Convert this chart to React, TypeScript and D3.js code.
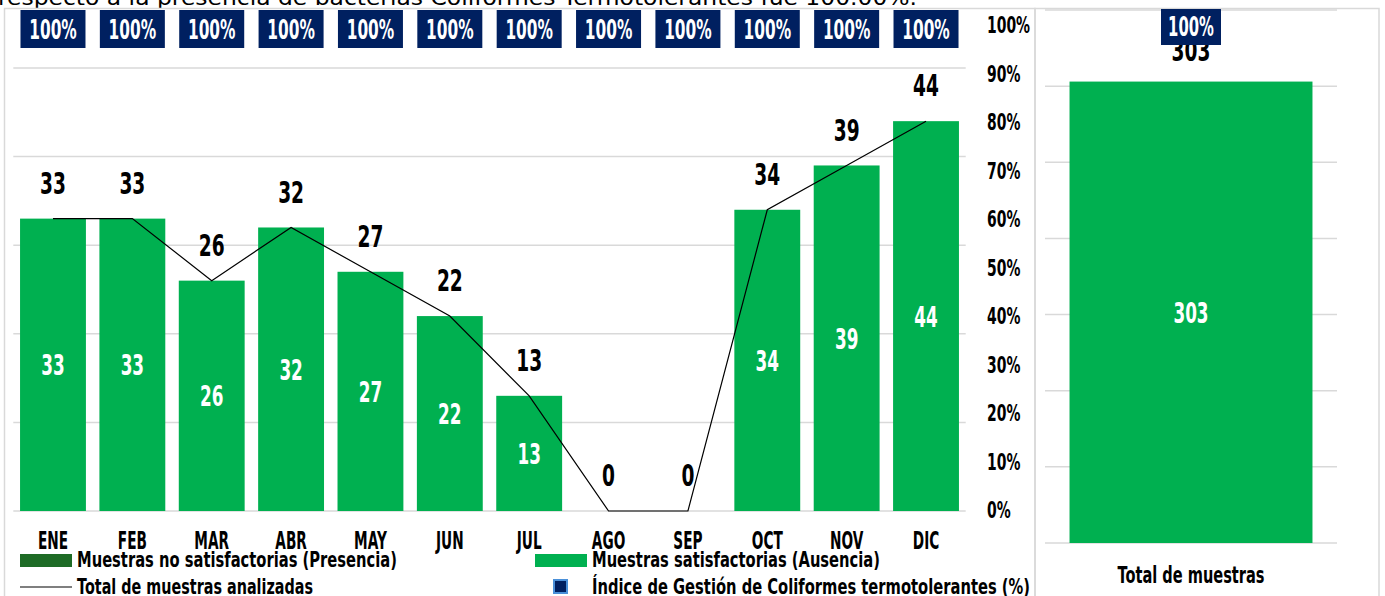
import React from "react";
import * as d3 from "d3";

const months = ["ENE", "FEB", "MAR", "ABR", "MAY", "JUN", "JUL", "AGO", "SEP", "OCT", "NOV", "DIC"];
const noSatisfactorias = [0, 0, 0, 0, 0, 0, 0, 0, 0, 0, 0, 0];
const satisfactorias = [33, 33, 26, 32, 27, 22, 13, 0, 0, 34, 39, 44];
const totalMuestras = [33, 33, 26, 32, 27, 22, 13, 0, 0, 34, 39, 44];
const indiceGestion = [1, 1, 1, 1, 1, 1, 1, 1, 1, 1, 1, 1];
const leftTicks = [0, 10, 20, 30, 40, 50];
const pctTicks = [0, 0.1, 0.2, 0.3, 0.4, 0.5, 0.6, 0.7, 0.8, 0.9, 1];

const totalCategory = ["Total de muestras"];
const totalSatisf = [303];
const totalIndice = [1];
const totalTicks = [0, 50, 100, 150, 200, 250, 300, 350];

const titleText = "respecto a la presencia de bacterias Coliformes Termotolerantes fue  100.00%.";

const FONT = "'DejaVu Sans', sans-serif";
const GREEN = "#00B050";
const DKGREEN = "#1E6B26";
const NAVY = "#002060";
const GRID = "#D9D9D9";

type NTProps = {
  x: number;
  y: number;
  sx?: number;
  size: number;
  anchor?: "start" | "middle" | "end";
  fill?: string;
  children: React.ReactNode;
};

// condensed bold text: real text, horizontally squeezed around its anchor
function NT({ x, y, sx = 0.6, size, anchor = "middle", fill = "#000", children }: NTProps) {
  return (
    <text
      transform={`translate(${x},${y}) scale(${sx},1)`}
      textAnchor={anchor}
      dy="0.36em"
      fontSize={size}
      fontWeight="bold"
      fontFamily={FONT}
      fill={fill}
    >
      {children}
    </text>
  );
}

export default function App() {
  const xL = d3.scaleBand<string>().domain(months).range([13.3, 965.7]).paddingInner(0.17).paddingOuter(0.085);
  const yL = d3.scaleLinear().domain([0, 50]).range([511, 68]);
  const yR = d3.scaleLinear().domain([0, 1]).range([510, 25]);

  const xT = d3.scaleBand<string>().domain(totalCategory).range([1045, 1337]).paddingInner(0.168).paddingOuter(0.084);
  const yT = d3.scaleLinear().domain([0, 350]).range([543, 10]);

  const cx = (m: string) => (xL(m) as number) + xL.bandwidth() / 2;
  const line = d3
    .line<number>()
    .x((_, i) => cx(months[i]))
    .y((d) => yL(d));

  const tcx = (xT(totalCategory[0]) as number) + xT.bandwidth() / 2;
  const pct = d3.format(".0%");

  return (
    <svg
      width={1385}
      height={596}
      style={{ position: "absolute", left: 0, top: 0, background: "#fff" }}
      fontFamily={FONT}
    >
      {/* title fragment */}
      <text x={-2} y={5} fontFamily="'DejaVu Sans', sans-serif" fontSize={21} fill="#000" textLength={919} lengthAdjust="spacingAndGlyphs">
        {titleText}
      </text>

      {/* frames */}
      <rect x={4.5} y={8.5} width={1030.5} height={600} fill="none" stroke={GRID} strokeWidth={1.5} />
      <rect x={1035} y={8.5} width={344} height={600} fill="none" stroke={GRID} strokeWidth={1.5} />

      {/* left gridlines */}
      {leftTicks.map((t) => (
        <line key={t} x1={13.3} x2={965.7} y1={yL(t)} y2={yL(t)} stroke={GRID} strokeWidth={1.5} />
      ))}

      {/* bars: stacked no satisfactorias + satisfactorias */}
      {months.map((m, i) => (
        <g key={m}>
          <rect
            x={xL(m)}
            width={xL.bandwidth()}
            y={yL(noSatisfactorias[i])}
            height={yL(0) - yL(noSatisfactorias[i])}
            fill={DKGREEN}
          />
          <rect
            x={xL(m)}
            width={xL.bandwidth()}
            y={yL(noSatisfactorias[i] + satisfactorias[i])}
            height={yL(noSatisfactorias[i]) - yL(noSatisfactorias[i] + satisfactorias[i])}
            fill={GREEN}
          />
          {satisfactorias[i] > 0 && (
            <NT x={cx(m)} y={yL(noSatisfactorias[i] + satisfactorias[i] / 2)} size={29} sx={0.58} fill="#fff">
              {satisfactorias[i]}
            </NT>
          )}
        </g>
      ))}

      {/* total line */}
      <path d={line(totalMuestras) || ""} fill="none" stroke="#000" strokeWidth={1.2} />
      {totalMuestras.map((v, i) => (
        <NT key={months[i]} x={cx(months[i])} y={yL(v) - 36} size={31} sx={0.6}>
          {v}
        </NT>
      ))}

      {/* index labels */}
      {indiceGestion.map((v, i) => (
        <g key={"idx" + i}>
          <rect x={cx(months[i]) - 32.5} y={yR(v) - 15} width={65} height={38} fill={NAVY} />
          <NT x={cx(months[i])} y={yR(v) + 4} size={27} sx={0.57} fill="#fff">
            {pct(v)}
          </NT>
        </g>
      ))}

      {/* x axis labels */}
      {months.map((m) => (
        <NT key={"x" + m} x={cx(m)} y={540} size={24} sx={0.57}>
          {m}
        </NT>
      ))}

      {/* right percent axis */}
      {pctTicks.map((t) => (
        <NT key={"p" + t} x={987} y={yR(t)} size={22.5} sx={0.62} anchor="start">
          {pct(t)}
        </NT>
      ))}

      {/* legend */}
      <rect x={20} y={554} width={52} height={13} fill={DKGREEN} />
      <text x={77} y={567} fontSize={21.5} fontWeight="bold" fill="#000" textLength={320} lengthAdjust="spacingAndGlyphs">
        Muestras no satisfactorias (Presencia)
      </text>
      <rect x={535} y={554} width={52} height={13} fill={GREEN} />
      <text x={592} y={567} fontSize={21.5} fontWeight="bold" fill="#000" textLength={288} lengthAdjust="spacingAndGlyphs">
        Muestras satisfactorias (Ausencia)
      </text>
      <line x1={20} x2={72} y1={587} y2={587} stroke="#000" strokeWidth={1.2} />
      <text x={77} y={594} fontSize={21.5} fontWeight="bold" fill="#000" textLength={236} lengthAdjust="spacingAndGlyphs">
        Total de muestras analizadas
      </text>
      <rect x={554} y={580} width={13} height={13} fill={NAVY} stroke="#4A90D9" strokeWidth={2} />
      <text x={592} y={594} fontSize={21.5} fontWeight="bold" fill="#000" textLength={438} lengthAdjust="spacingAndGlyphs">
        Índice de Gestión de Coliformes  termotolerantes (%)
      </text>

      {/* right panel */}
      {totalTicks.map((t) => (
        <line key={"t" + t} x1={1045} x2={1337} y1={yT(t)} y2={yT(t)} stroke={GRID} strokeWidth={1.5} />
      ))}
      {totalCategory.map((c, i) => (
        <g key={c}>
          <rect
            x={xT(c)}
            width={xT.bandwidth()}
            y={yT(totalSatisf[i])}
            height={yT(0) - yT(totalSatisf[i])}
            fill={GREEN}
          />
          <NT x={tcx} y={yT(totalSatisf[i] / 2)} size={29} sx={0.58} fill="#fff">
            {totalSatisf[i]}
          </NT>
          <NT x={tcx} y={yT(totalSatisf[i]) - 32} size={31} sx={0.6}>
            {totalSatisf[i]}
          </NT>
          <rect x={tcx - 30} y={9} width={60} height={36} fill={NAVY} />
          <NT x={tcx} y={27} size={26} sx={0.57} fill="#fff">
            {pct(totalIndice[i])}
          </NT>
          <text x={tcx} y={575} dy="0.36em" textAnchor="middle" fontSize={23} fontWeight="bold" fill="#000" textLength={147} lengthAdjust="spacingAndGlyphs">
            {c}
          </text>
        </g>
      ))}
    </svg>
  );
}
